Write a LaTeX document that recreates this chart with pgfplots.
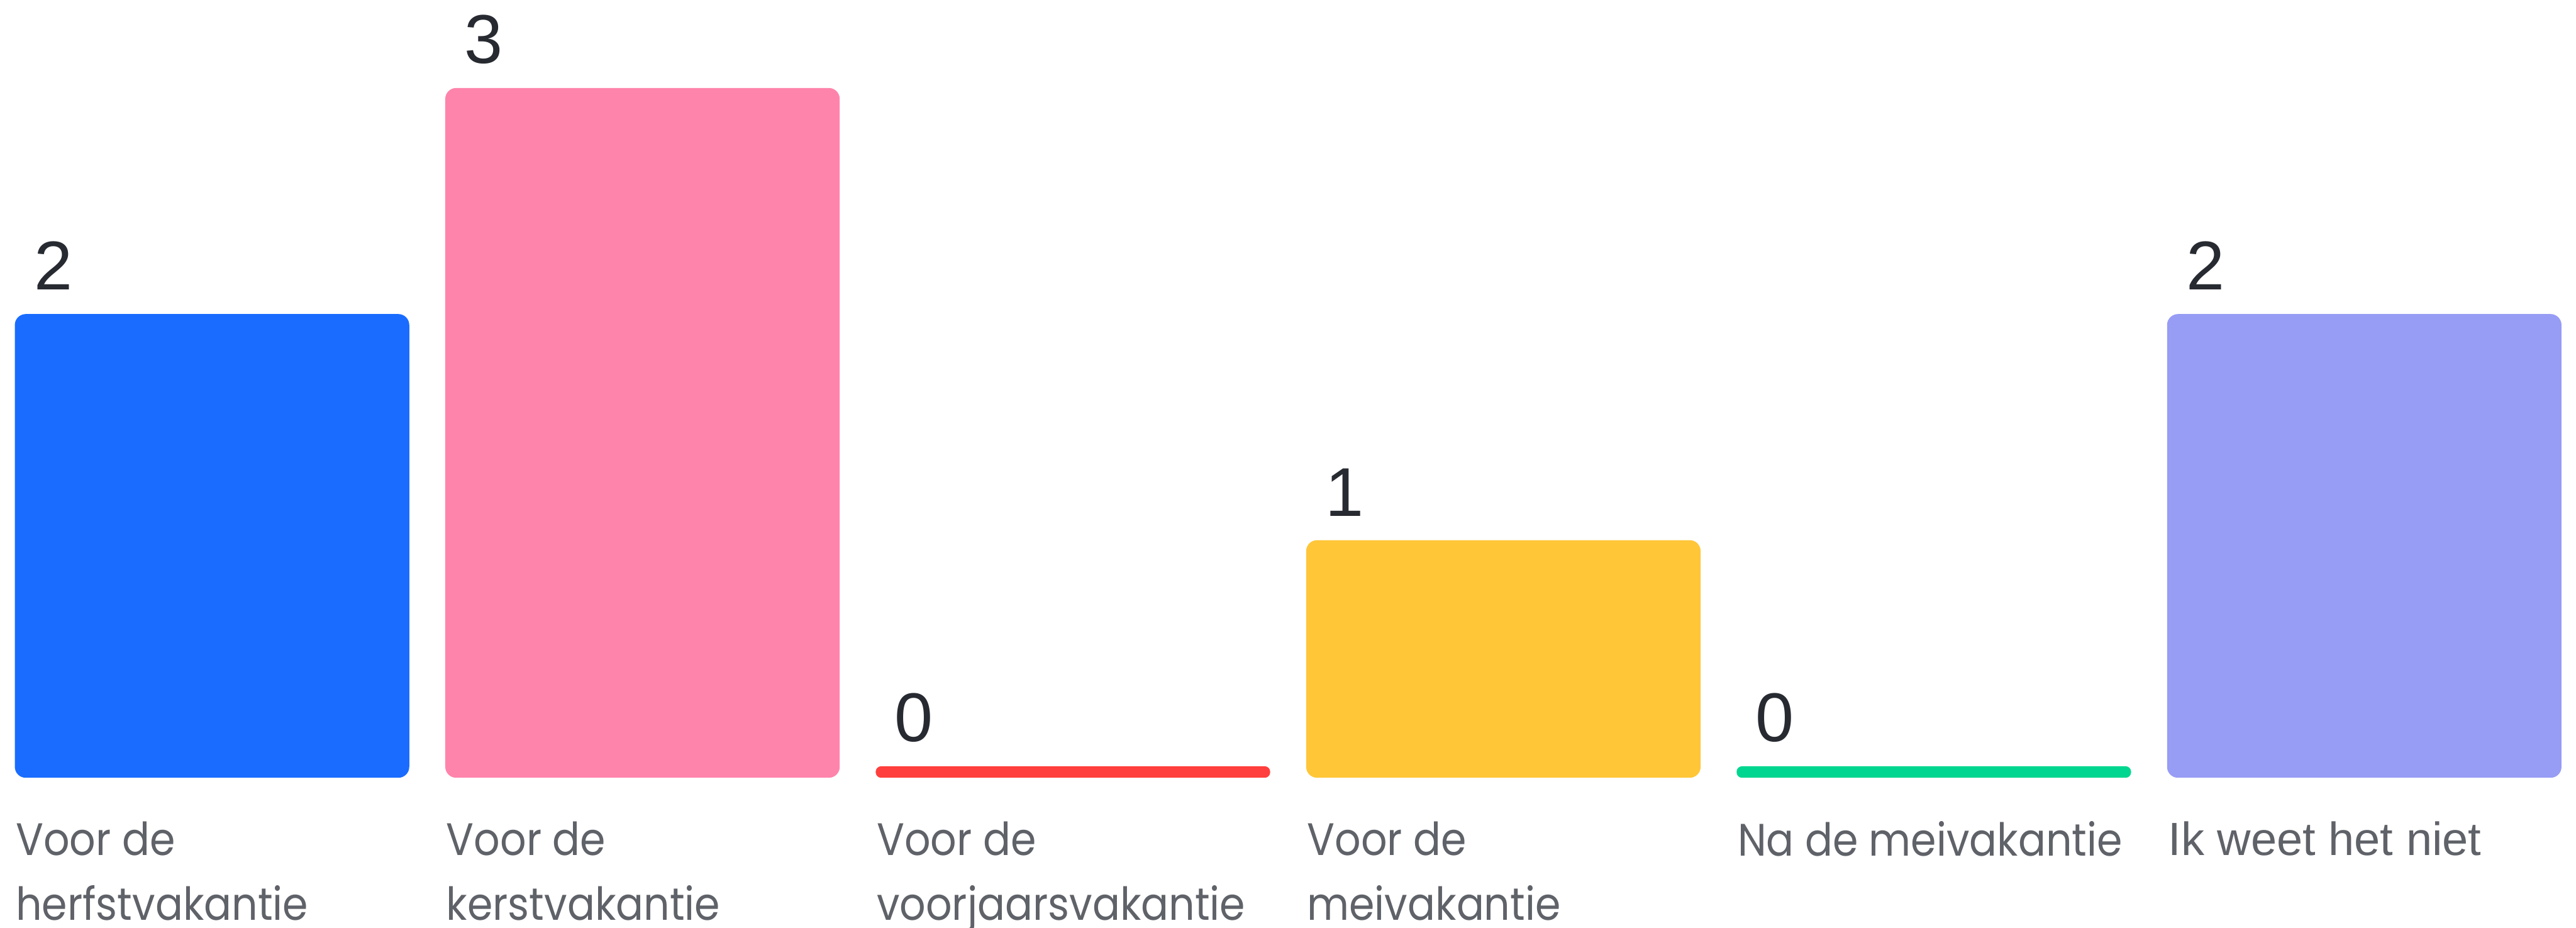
\documentclass[border=0pt]{standalone}
\usepackage{fontspec}
\setmainfont{Liberation Sans}
\newfontfamily\labfont[FakeStretch=0.9]{Poppins}
\newfontfamily\ikfont{Liberation Sans}
\usepackage{pgfplots}
\pgfplotsset{compat=1.18}
\definecolor{cBlue}{HTML}{196CFF}
\definecolor{cPink}{HTML}{FF84AC}
\definecolor{cRed}{HTML}{FF3F3D}
\definecolor{cYellow}{HTML}{FFC638}
\definecolor{cGreen}{HTML}{00D68F}
\definecolor{cPurple}{HTML}{979CF5}
\definecolor{numtext}{HTML}{272A31}
\definecolor{labtext}{HTML}{5F6268}
\begin{document}
\begin{tikzpicture}
\begin{axis}[
  scale only axis,
  width=470.2pt, height=169.3pt,
  xmin=-0.4926, xmax=5.492,
  ymin=-0.664, ymax=3.44,
  axis x line=middle, axis y line=none,
  x axis line style={draw=none},
  major tick length=0pt,
  ytick=\empty,
  xtick={0,1,2,3,4,5},
  xticklabels={{Voor de\\herfstvakantie},{Voor de\\kerstvakantie},{Voor de\\voorjaarsvakantie},{Voor de\\meivakantie},{Na de meivakantie},{\ikfont\fontsize{8.5}{11.8}\selectfont Ik weet het niet}},
  xticklabel style={anchor=north west, xshift=-36pt, yshift=-7.8pt, inner sep=0pt, align=left, text=labtext, font=\labfont\fontsize{8.3}{11.8}\selectfont},
  ybar, bar width=72pt, bar shift=0pt,
  clip=false,
  point meta=explicit,
  /pgf/number format/assume math mode=true,
  nodes near coords,
  every node near coord/.append style={anchor=south west, xshift=-32.7pt, yshift=4.2pt, inner sep=0pt, text=numtext, font=\fontsize{12.6}{14}\selectfont},
]
\addplot[fill=cBlue, draw=none, rounded corners=2pt] table[row sep=\\, x=x, y expr=\thisrow{v}+0.051, meta=v] {x v\\ 0 2\\};
\addplot[fill=cPink, draw=none, rounded corners=2pt] table[row sep=\\, x=x, y expr=\thisrow{v}+0.051, meta=v] {x v\\ 1 3\\};
\addplot[fill=cRed, draw=none, rounded corners=1pt] table[row sep=\\, x=x, y expr=\thisrow{v}+0.051, meta=v] {x v\\ 2 0\\};
\addplot[fill=cYellow, draw=none, rounded corners=2pt] table[row sep=\\, x=x, y expr=\thisrow{v}+0.051, meta=v] {x v\\ 3 1\\};
\addplot[fill=cGreen, draw=none, rounded corners=1pt] table[row sep=\\, x=x, y expr=\thisrow{v}+0.051, meta=v] {x v\\ 4 0\\};
\addplot[fill=cPurple, draw=none, rounded corners=2pt] table[row sep=\\, x=x, y expr=\thisrow{v}+0.051, meta=v] {x v\\ 5 2\\};
\end{axis}
\pgfresetboundingbox
\path (0,0) rectangle (470.2pt,169.3pt);
\end{tikzpicture}
\end{document}
